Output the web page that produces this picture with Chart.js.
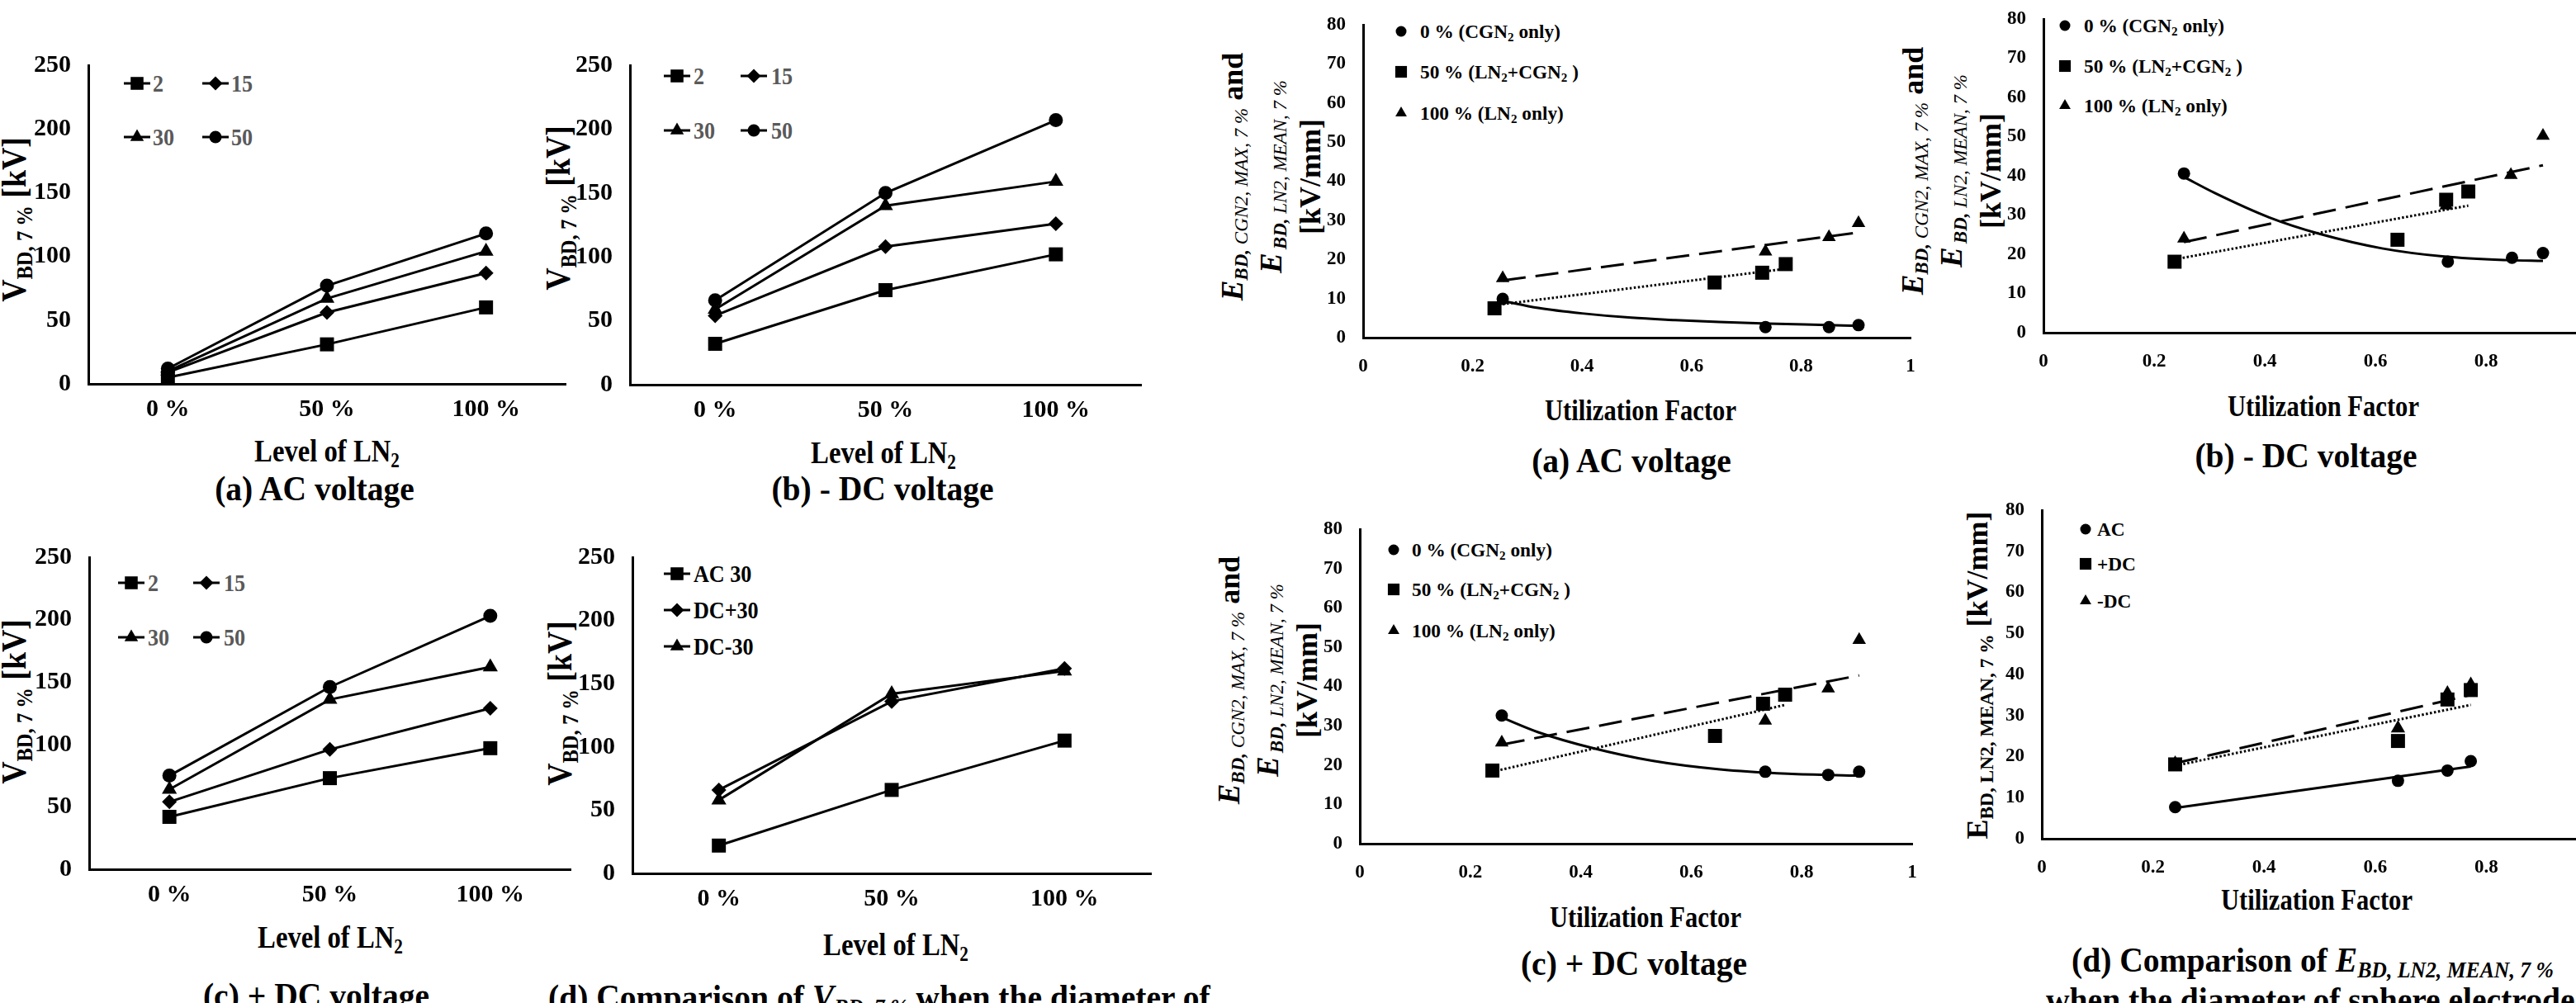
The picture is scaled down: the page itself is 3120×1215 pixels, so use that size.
<!DOCTYPE html>
<html>
<head>
<meta charset="utf-8">
<script src="https://cdn.jsdelivr.net/npm/chart.js@4.4.1/dist/chart.umd.min.js"></script>
<style>
  html, body { margin: 0; padding: 0; background: #fff; }
  body { width: 3120px; height: 1215px; position: relative; overflow: hidden;
         font-family: "Liberation Serif", "Times New Roman", serif; font-weight: bold; color: #000; }
  canvas { position: absolute; }
  .t { position: absolute; white-space: nowrap; line-height: 1; --sx: 0.9; }
  .c { transform: translate(-50%, -50%) scaleX(var(--sx)); }
  .l { transform: translateY(-50%) scaleX(var(--sx)); transform-origin: left center; }
  .r { transform: translate(-50%, -50%) rotate(-90deg) scaleX(var(--sx)); }
  .r2 { transform: translate(-50%, -50%) rotate(-90deg); text-align: center; line-height: 40px; }
  sub { font-size: 0.65em; vertical-align: -0.28em; line-height: 0; }
  .grey { color: #595959; }
  .n { font-weight: normal; }
</style>
</head>
<body>

<!-- left block: V_BD,7% vs level of LN2 -->
<div class="t r" style="left:17px;top:266px;font-size:42px">V<sub>BD, 7 %</sub> [kV]</div>
<div class="t r" style="left:676px;top:252px;font-size:42px">V<sub>BD, 7 %</sub> [kV]</div>
<div class="t r" style="left:17px;top:850px;font-size:42px">V<sub>BD, 7 %</sub> [kV]</div>
<div class="t r" style="left:678px;top:852px;font-size:42px">V<sub>BD, 7 %</sub> [kV]</div>

<div class="t c" style="left:396px;top:546px;font-size:38px;--sx:0.86">Level of LN<sub>2</sub></div>
<div class="t c" style="left:1070px;top:548px;font-size:38px;--sx:0.86">Level of LN<sub>2</sub></div>
<div class="t c" style="left:400px;top:1135px;font-size:38px;--sx:0.86">Level of LN<sub>2</sub></div>
<div class="t c" style="left:1085px;top:1144px;font-size:38px;--sx:0.86">Level of LN<sub>2</sub></div>

<div class="t c" style="left:381px;top:591px;font-size:43px;--sx:0.92">(a) AC voltage</div>
<div class="t c" style="left:1069px;top:591px;font-size:43px;--sx:0.92">(b) - DC voltage</div>
<div class="t c" style="left:383px;top:1205px;font-size:43px;--sx:0.92">(c) + DC voltage</div>
<div class="t l" style="left:664px;top:1207px;font-size:43px;--sx:0.92">(d) Comparison of <i>V<sub>BD, 7 %</sub></i> when the diameter of</div>

<!-- legends, left block -->
<div class="t l grey" style="left:185px;top:101px;font-size:29px">2</div>
<div class="t l grey" style="left:280px;top:101px;font-size:29px">15</div>
<div class="t l grey" style="left:185px;top:166px;font-size:29px">30</div>
<div class="t l grey" style="left:280px;top:166px;font-size:29px">50</div>

<div class="t l grey" style="left:840px;top:92px;font-size:29px">2</div>
<div class="t l grey" style="left:934px;top:92px;font-size:29px">15</div>
<div class="t l grey" style="left:840px;top:158px;font-size:29px">30</div>
<div class="t l grey" style="left:934px;top:158px;font-size:29px">50</div>

<div class="t l grey" style="left:179px;top:706px;font-size:29px">2</div>
<div class="t l grey" style="left:271px;top:706px;font-size:29px">15</div>
<div class="t l grey" style="left:179px;top:772px;font-size:29px">30</div>
<div class="t l grey" style="left:271px;top:772px;font-size:29px">50</div>

<div class="t l" style="left:840px;top:695px;font-size:29px">AC 30</div>
<div class="t l" style="left:840px;top:739px;font-size:29px">DC+30</div>
<div class="t l" style="left:840px;top:783px;font-size:29px">DC-30</div>

<!-- right block: E_BD vs utilization factor -->
<div class="t r2" style="left:1540px;top:214px">
  <div><i style="font-size:37px">E</i><i style="font-size:23px"><sub style="font-size:1em">BD, <span class="n">CGN2, MAX, 7 %</span></sub></i><span style="font-size:36px"> and</span></div>
  <div><i style="font-size:37px">E</i> <i style="font-size:23px"><sub style="font-size:1em">BD, <span class="n">LN2, MEAN, 7 %</span></sub></i></div>
  <div style="font-size:36px">[kV/mm]</div>
</div>
<div class="t r2" style="left:2364px;top:207px">
  <div><i style="font-size:37px">E</i><i style="font-size:23px"><sub style="font-size:1em">BD, <span class="n">CGN2, MAX, 7 %</span></sub></i><span style="font-size:36px"> and</span></div>
  <div><i style="font-size:37px">E</i> <i style="font-size:23px"><sub style="font-size:1em">BD, <span class="n">LN2, MEAN, 7 %</span></sub></i></div>
  <div style="font-size:36px">[kV/mm]</div>
</div>
<div class="t r2" style="left:1536px;top:824px">
  <div><i style="font-size:37px">E</i><i style="font-size:23px"><sub style="font-size:1em">BD, <span class="n">CGN2, MAX, 7 %</span></sub></i><span style="font-size:36px"> and</span></div>
  <div><i style="font-size:37px">E</i> <i style="font-size:23px"><sub style="font-size:1em">BD, <span class="n">LN2, MEAN, 7 %</span></sub></i></div>
  <div style="font-size:36px">[kV/mm]</div>
</div>
<div class="t r" style="left:2395px;top:818px;font-size:36px;--sx:1">E<sub>BD, LN2, MEAN, 7 %</sub> [kV/mm]</div>

<div class="t c" style="left:1987px;top:497px;font-size:36px;--sx:0.85">Utilization Factor</div>
<div class="t c" style="left:2814px;top:492px;font-size:36px;--sx:0.85">Utilization Factor</div>
<div class="t c" style="left:1993px;top:1111px;font-size:36px;--sx:0.85">Utilization Factor</div>
<div class="t c" style="left:2806px;top:1090px;font-size:36px;--sx:0.85">Utilization Factor</div>

<div class="t c" style="left:1976px;top:557px;font-size:43px;--sx:0.92">(a) AC voltage</div>
<div class="t c" style="left:2793px;top:551px;font-size:43px;--sx:0.92">(b) - DC voltage</div>
<div class="t c" style="left:1979px;top:1166px;font-size:43px;--sx:0.92">(c) + DC voltage</div>
<div class="t l" style="left:2509px;top:1162px;font-size:43px;--sx:0.92">(d) Comparison of <i>E<sub>BD, LN2, MEAN, 7 %</sub></i></div>
<div class="t l" style="left:2478px;top:1210px;font-size:43px;--sx:0.92">when the diameter of sphere electrode</div>

<!-- legends, right block -->
<div class="t l" style="left:1720px;top:38px;font-size:24px;--sx:0.97">0 % (CGN<sub>2</sub> only)</div>
<div class="t l" style="left:1720px;top:87px;font-size:24px;--sx:0.97">50 % (LN<sub>2</sub>+CGN<sub>2</sub> )</div>
<div class="t l" style="left:1720px;top:137px;font-size:24px;--sx:0.97">100 % (LN<sub>2</sub> only)</div>

<div class="t l" style="left:2524px;top:31px;font-size:24px;--sx:0.97">0 % (CGN<sub>2</sub> only)</div>
<div class="t l" style="left:2524px;top:80px;font-size:24px;--sx:0.97">50 % (LN<sub>2</sub>+CGN<sub>2</sub> )</div>
<div class="t l" style="left:2524px;top:128px;font-size:24px;--sx:0.97">100 % (LN<sub>2</sub> only)</div>

<div class="t l" style="left:1710px;top:666px;font-size:24px;--sx:0.97">0 % (CGN<sub>2</sub> only)</div>
<div class="t l" style="left:1710px;top:714px;font-size:24px;--sx:0.97">50 % (LN<sub>2</sub>+CGN<sub>2</sub> )</div>
<div class="t l" style="left:1710px;top:764px;font-size:24px;--sx:0.97">100 % (LN<sub>2</sub> only)</div>

<div class="t l" style="left:2540px;top:641px;font-size:24px;--sx:0.97">AC</div>
<div class="t l" style="left:2540px;top:683px;font-size:24px;--sx:0.97">+DC</div>
<div class="t l" style="left:2540px;top:728px;font-size:24px;--sx:0.97">-DC</div>

<script>
// values

// left block: V_BD,7% [kV] per sphere diameter, at 0 / 50 / 100 % LN2
var levelLabels = ['0 %', '50 %', '100 %'];

var ac2 = [5, 31, 60];
var ac15 = [9, 56, 87];
var ac30 = [10, 67, 104];
var ac50 = [12, 77, 118];

var negDc2 = [32, 74, 102];
var negDc15 = [54, 108, 126];
var negDc30 = [59, 140, 159];
var negDc50 = [66, 150, 207];

var posDc2 = [42, 73, 97];
var posDc15 = [54, 96, 129];
var posDc30 = [64, 136, 162];
var posDc50 = [75, 146, 203];

var cmpAc30 = [22, 66, 105];
var cmpPosDc30 = [66, 136, 162];
var cmpNegDc30 = [58, 142, 160];

var voltTicks = [0, 250, 50];

// right block: E_BD [kV/mm] vs utilization factor
var ufTicks = [0, 1, 0.2];
var fieldTicks = [0, 80, 10];

// (a) AC
var acCgnX = [0.255, 0.735, 0.851, 0.905];
var acCgnY = [9.9, 2.7, 2.7, 3.2];
var acMixX = [0.24, 0.642, 0.729, 0.772];
var acMixY = [7.5, 14.1, 16.6, 18.8];
var acLnX = [0.255, 0.735, 0.851, 0.905];
var acLnY = [15.2, 22.0, 25.7, 29.3];
var acCgnFitX = [0.255, 0.32, 0.40, 0.49, 0.57, 0.65, 0.74, 0.82, 0.905];
var acCgnFitY = [9.4, 7.6, 6.2, 5.1, 4.5, 4.0, 3.6, 3.3, 3.0];
var acMixFitX = [0.24, 0.772];
var acMixFitY = [8.3, 17.6];
var acLnFitX = [0.255, 0.905];
var acLnFitY = [14.6, 26.9];

// (b) -DC
var nCgnX = [0.254, 0.731, 0.847, 0.903];
var nCgnY = [40.6, 18.1, 19.1, 20.3];
var nMixX = [0.237, 0.64, 0.728, 0.768];
var nMixY = [18.1, 23.7, 33.9, 36.0];
var nLnX = [0.254, 0.728, 0.845, 0.903];
var nLnY = [24.0, 32.4, 40.2, 50.2];
var nCgnFitX = [0.254, 0.31, 0.408, 0.499, 0.612, 0.725, 0.838, 0.903];
var nCgnFitY = [39.7, 35.6, 29.4, 25.2, 21.5, 19.4, 18.5, 18.3];
var nMixFitX = [0.237, 0.768];
var nMixFitY = [18.7, 32.4];
var nLnFitX = [0.254, 0.903];
var nLnFitY = [23.1, 42.7];

// (c) +DC
var pCgnX = [0.257, 0.734, 0.848, 0.904];
var pCgnY = [32.6, 18.3, 17.5, 18.3];
var pMixX = [0.24, 0.643, 0.73, 0.77];
var pMixY = [18.6, 27.4, 35.6, 37.9];
var pLnX = [0.257, 0.734, 0.848, 0.904];
var pLnY = [25.7, 31.3, 39.5, 51.8];
var pCgnFitX = [0.257, 0.324, 0.422, 0.529, 0.652, 0.775, 0.904];
var pCgnFitY = [32.1, 28.3, 24.3, 21.1, 18.9, 17.8, 17.3];
var pMixFitX = [0.24, 0.77];
var pMixFitY = [18.3, 35.3];
var pLnFitX = [0.257, 0.904];
var pLnFitY = [25.2, 42.8];

// (d) comparison, E_BD,LN2,MEAN,7%
var cmpUf = [0.24, 0.641, 0.73, 0.772];
var cmpAcE = [7.7, 14.1, 16.6, 18.9];
var cmpPosE = [18.1, 23.8, 33.9, 36.2];
var cmpNegE = [18.3, 26.9, 35.4, 37.5];
var cmpFitX = [0.24, 0.772];
var cmpAcFit = [7.5, 17.6];
var cmpNegFit = [18.4, 35.0];
var cmpPosFit = [17.8, 32.6];

var serif = '"Liberation Serif", "Times New Roman", serif';
Chart.defaults.font.family = serif;
Chart.defaults.font.weight = 'bold';
Chart.defaults.color = '#000';

function tickFont(size)
{
    return {family: serif, weight: 'bold', size: size};
}

function zip(xs, ys)
{
    return xs.map(function (x, i) { return {x: x, y: ys[i]}; });
}

function drawMark(ctx, style, x, y, r)
{
    ctx.beginPath();
    if (style == 'rect') {
        var s = Math.SQRT1_2 * r;
        ctx.rect(x - s, y - s, 2 * s, 2 * s);
    } else if (style == 'rectRot') {
        ctx.moveTo(x - r, y); ctx.lineTo(x, y - r); ctx.lineTo(x + r, y); ctx.lineTo(x, y + r);
        ctx.closePath();
    } else if (style == 'triangle') {
        var h = r * Math.sin(Math.PI / 3);
        ctx.moveTo(x, y - r); ctx.lineTo(x + h, y + r / 2); ctx.lineTo(x - h, y + r / 2);
        ctx.closePath();
    } else {
        ctx.arc(x, y, r, 0, Math.PI * 2);
    }
    ctx.fill();
}

// legend markers placed inside the plot like the original (text is html)
var legendMarks = {
    id: 'legendMarks',
    afterDraw: function (chart, args, opts) {
        var ctx = chart.ctx;
        (opts.items || []).forEach(function (it) {
            var x = it.x - opts.ox, y = it.y - opts.oy;
            ctx.save();
            ctx.fillStyle = '#000';
            ctx.strokeStyle = '#000';
            if (opts.line) {
                ctx.lineWidth = 3;
                ctx.beginPath(); ctx.moveTo(x - 16, y); ctx.lineTo(x + 16, y); ctx.stroke();
            }
            drawMark(ctx, it.s, x, y, it.r);
            ctx.restore();
        });
    }
};

function makeCanvas(plot, m)
{
    var box = {x: plot.l - m.yW, y: plot.t - m.pt};
    box.w = plot.r + m.pr - box.x;
    box.h = plot.b + m.xH - box.y;
    var c = document.createElement('canvas');
    c.width = box.w; c.height = box.h;
    c.style.left = box.x + 'px'; c.style.top = box.y + 'px';
    c.style.width = box.w + 'px'; c.style.height = box.h + 'px';
    document.body.appendChild(c);
    return {canvas: c, box: box};
}

function fixedY(ticks, fontSize, width)
{
    return {
        min: ticks[0], max: ticks[1],
        ticks: {stepSize: ticks[2], font: tickFont(fontSize), color: '#000', padding: 21},
        grid: {display: false, drawTicks: false, tickLength: 0},
        border: {display: true, color: '#000', width: 3},
        afterFit: function (scale) {
            scale.width = width;
            scale.paddingTop = 0; scale.paddingBottom = 0;
        }
    };
}

function fixedX(extra, fontSize, pad, height)
{
    var o = {
        ticks: {font: tickFont(fontSize), color: '#000', padding: pad, maxRotation: 0, autoSkip: false},
        grid: {display: false, drawTicks: false, tickLength: 0},
        border: {display: true, color: '#000', width: 3},
        afterFit: function (scale) {
            scale.height = height;
            scale.paddingLeft = 0; scale.paddingRight = 0;
        }
    };
    for (var k in extra) {
        if (k == 'ticks') { for (var t in extra.ticks) o.ticks[t] = extra.ticks[t]; }
        else o[k] = extra[k];
    }
    return o;
}

var markRadius = {rect: 12, rectRot: 9, triangle: 10.5, circle: 8.5};

function leftPanel(plot, series, legendItems)
{
    var m = {yW: 100, pt: 30, pr: 20, xH: 60};
    var made = makeCanvas(plot, m);
    new Chart(made.canvas, {
        type: 'line',
        data: {
            labels: levelLabels,
            datasets: series.map(function (s) {
                return {
                    data: s.data, borderColor: '#000', backgroundColor: '#000', borderWidth: 3,
                    pointStyle: s.style, pointRadius: markRadius[s.style], pointBorderWidth: 0,
                    pointBackgroundColor: '#000', tension: 0, fill: false
                };
            })
        },
        options: {
            responsive: false, animation: false, events: [],
            layout: {padding: {top: m.pt, right: m.pr, left: 0, bottom: 0}},
            scales: {
                x: fixedX({type: 'category', offset: true}, 30, 13, m.xH),
                y: fixedY(voltTicks, 30, m.yW)
            },
            plugins: {
                legend: {display: false}, tooltip: {enabled: false},
                legendMarks: {items: legendItems, ox: made.box.x, oy: made.box.y, line: true}
            }
        },
        plugins: [legendMarks]
    });
}

var dotted = [2.5, 2.5];
var dashed = [28, 12];

function rightPanel(plot, points, fits, legendItems)
{
    var m = {yW: 62, pt: 18, pr: 30, xH: 60};
    var made = makeCanvas(plot, m);
    var sets = [];
    fits.forEach(function (f) {
        sets.push({
            data: f.data, showLine: true, borderColor: '#000', borderWidth: 3,
            borderDash: f.dash, pointRadius: 0, fill: false,
            tension: f.curve ? 0.4 : 0, cubicInterpolationMode: f.curve ? 'monotone' : 'default'
        });
    });
    points.forEach(function (p) {
        sets.push({
            data: p.data, showLine: false, pointStyle: p.style, pointRadius: p.r,
            pointBackgroundColor: '#000', pointBorderWidth: 0, backgroundColor: '#000'
        });
    });
    new Chart(made.canvas, {
        type: 'scatter',
        data: {datasets: sets},
        options: {
            responsive: false, animation: false, events: [],
            layout: {padding: {top: m.pt, right: m.pr, left: 0, bottom: 0}},
            scales: {
                x: fixedX({type: 'linear', min: ufTicks[0], max: ufTicks[1],
                    ticks: {stepSize: ufTicks[2], callback: function (v) { return String(Math.round(v * 10) / 10); }}},
                    23, 21, m.xH),
                y: fixedY(fieldTicks, 23, m.yW)
            },
            plugins: {
                legend: {display: false}, tooltip: {enabled: false},
                legendMarks: {items: legendItems, ox: made.box.x, oy: made.box.y, line: false}
            }
        },
        plugins: [legendMarks]
    });
}

function gapLegend(x1, x2, y1, y2)
{
    return [
        {x: x1, y: y1, s: 'rect', r: 11}, {x: x2, y: y1, s: 'rectRot', r: 8.5},
        {x: x1, y: y2, s: 'triangle', r: 9.5}, {x: x2, y: y2, s: 'circle', r: 7.5}
    ];
}

function gapSeries(a, b, c, d)
{
    return [
        {data: a, style: 'rect'}, {data: b, style: 'rectRot'},
        {data: c, style: 'triangle'}, {data: d, style: 'circle'}
    ];
}

leftPanel({l: 107, r: 685, t: 79, b: 465}, gapSeries(ac2, ac15, ac30, ac50), gapLegend(166, 261, 101, 166));
leftPanel({l: 763, r: 1382, t: 79, b: 466}, gapSeries(negDc2, negDc15, negDc30, negDc50), gapLegend(820, 913, 92, 158));
leftPanel({l: 108, r: 691, t: 675, b: 1053}, gapSeries(posDc2, posDc15, posDc30, posDc50), gapLegend(159, 250, 706, 772));
leftPanel({l: 766, r: 1394, t: 675, b: 1058},
    [{data: cmpAc30, style: 'rect'}, {data: cmpPosDc30, style: 'rectRot'}, {data: cmpNegDc30, style: 'triangle'}],
    [{x: 820, y: 695, s: 'rect', r: 11}, {x: 820, y: 739, s: 'rectRot', r: 8.5}, {x: 820, y: 783, s: 'triangle', r: 9.5}]);

function levelLegend(x, y1, y2, y3)
{
    return [{x: x, y: y1, s: 'circle', r: 6.5}, {x: x, y: y2, s: 'rect', r: 10}, {x: x, y: y3, s: 'triangle', r: 8}];
}

function levelPoints(cx, cy, mx, my, lx, ly)
{
    return [
        {data: zip(cx, cy), style: 'circle', r: 7.5},
        {data: zip(mx, my), style: 'rect', r: 12},
        {data: zip(lx, ly), style: 'triangle', r: 9.5}
    ];
}

rightPanel({l: 1651, r: 2314, t: 30, b: 409},
    levelPoints(acCgnX, acCgnY, acMixX, acMixY, acLnX, acLnY),
    [{data: zip(acCgnFitX, acCgnFitY), dash: [], curve: true},
     {data: zip(acMixFitX, acMixFitY), dash: dotted},
     {data: zip(acLnFitX, acLnFitY), dash: dashed}],
    levelLegend(1697, 38, 87, 137));

rightPanel({l: 2475, r: 3145, t: 23, b: 403},
    levelPoints(nCgnX, nCgnY, nMixX, nMixY, nLnX, nLnY),
    [{data: zip(nCgnFitX, nCgnFitY), dash: [], curve: true},
     {data: zip(nMixFitX, nMixFitY), dash: dotted},
     {data: zip(nLnFitX, nLnFitY), dash: dashed}],
    levelLegend(2501, 31, 80, 128));

rightPanel({l: 1647, r: 2316, t: 641, b: 1022},
    levelPoints(pCgnX, pCgnY, pMixX, pMixY, pLnX, pLnY),
    [{data: zip(pCgnFitX, pCgnFitY), dash: [], curve: true},
     {data: zip(pMixFitX, pMixFitY), dash: dotted},
     {data: zip(pLnFitX, pLnFitY), dash: dashed}],
    levelLegend(1688, 666, 714, 764));

rightPanel({l: 2473, r: 3146, t: 618, b: 1016},
    [{data: zip(cmpUf, cmpAcE), style: 'circle', r: 7.5},
     {data: zip(cmpUf, cmpPosE), style: 'rect', r: 12},
     {data: zip(cmpUf, cmpNegE), style: 'triangle', r: 10}],
    [{data: zip(cmpFitX, cmpAcFit), dash: []},
     {data: zip(cmpFitX, cmpNegFit), dash: dashed},
     {data: zip(cmpFitX, cmpPosFit), dash: dotted}],
    levelLegend(2526, 641, 683, 728));
</script>
</body>
</html>
